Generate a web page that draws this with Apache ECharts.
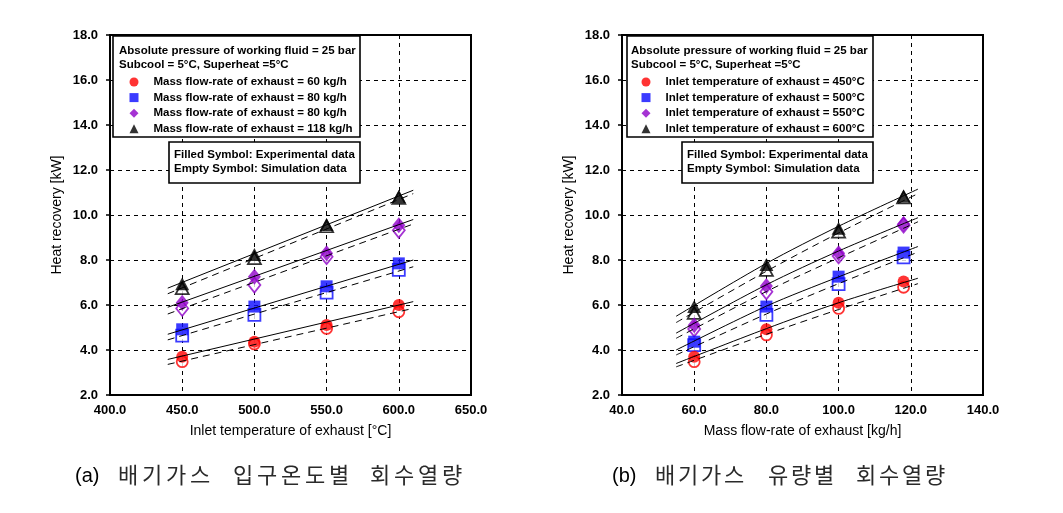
<!DOCTYPE html>
<html><head><meta charset="utf-8">
<script src="https://cdn.jsdelivr.net/npm/echarts@6/dist/echarts.min.js"></script>
<style>html,body{margin:0;padding:0;background:#fff}#c{width:1063px;height:513px}</style>
</head><body><div id="c"></div>
<script>
// ---------- data ----------
const tempX = [450, 500, 550, 600];          // chart (a) x, °C
const flowX = [60, 80, 100, 118];            // chart (b) x, kg/h
const xTicksA = [400, 450, 500, 550, 600, 650];
const xTicksB = [40, 60, 80, 100, 120, 140];
const yTicks = [2, 4, 6, 8, 10, 12, 14, 16, 18];

const namesA = ['Mass flow-rate of exhaust = 60 kg/h', 'Mass flow-rate of exhaust = 80 kg/h',
  'Mass flow-rate of exhaust = 80 kg/h\u00a0', 'Mass flow-rate of exhaust = 118 kg/h'];
const namesB = ['Inlet temperature of exhaust = 450°C', 'Inlet temperature of exhaust = 500°C',
  'Inlet temperature of exhaust = 550°C', 'Inlet temperature of exhaust = 600°C'];

// chart (a): experimental (filled) and simulation (empty)
const aExp60 = [3.70, 4.37, 5.11, 6.00];
const aExp80 = [4.92, 5.93, 6.83, 7.85];
const aExp100 = [6.10, 7.26, 8.30, 9.55];
const aExp118 = [6.95, 8.25, 9.58, 10.82];
const aSim60 = [3.48, 4.27, 4.96, 5.70];
const aSim80 = [4.64, 5.56, 6.55, 7.56];
const aSim100 = [5.85, 6.89, 8.15, 9.32];
const aSim118 = [6.75, 8.08, 9.50, 10.76];
// chart (a) lines
const aLineX = [440, 610];
const aSolid60 = [3.58, 6.15], aDash60 = [3.36, 5.85];
const aSolid80 = [4.70, 8.00], aDash80 = [4.45, 7.70];
const aSolid100 = [5.90, 9.80], aDash100 = [5.60, 9.60];
const aSolid118 = [6.75, 11.10], aDash118 = [6.50, 10.95];

// chart (b): experimental (filled) and simulation (empty)
const bExp450 = [3.70, 4.92, 6.10, 7.04];
const bExp500 = [4.37, 5.93, 7.26, 8.33];
const bExp550 = [5.10, 6.84, 8.30, 9.60];
const bExp600 = [5.93, 7.80, 9.41, 10.84];
const bSim450 = [3.48, 4.67, 5.85, 6.79];
const bSim500 = [4.22, 5.56, 6.93, 8.12];
const bSim550 = [4.93, 6.59, 8.18, 9.55];
const bSim600 = [5.65, 7.56, 9.26, 10.78];
// chart (b) lines
const bLineX = [55, 80, 100, 122];
const bSolid450 = [3.40, 4.95, 6.10, 7.19], bDash450 = [3.25, 4.70, 5.80, 6.95];
const bSolid500 = [4.00, 5.95, 7.25, 8.60], bDash500 = [3.78, 5.60, 6.95, 8.35];
const bSolid550 = [4.75, 6.90, 8.40, 9.88], bDash550 = [4.52, 6.60, 8.10, 9.70];
const bSolid600 = [5.50, 7.85, 9.50, 11.15], bDash600 = [5.22, 7.50, 9.20, 10.95];

// ---------- styles ----------
const FONT = "'Liberation Sans', Arial, sans-serif";
const LFONT = "'Liberation Sans', Arial, sans-serif";
const LSIZE = 11.5;
const colors = ['#ff0000', '#0a0aff', '#8e00c8', '#000000'];
const symbols = ['circle', 'rect', 'diamond', 'triangle'];
const fillSize = [12, 12, [13, 16], [14, 13]];
const emptySize = [11, 12, [12, 15], [13, 12]];

function pairs(xs, ys) { return xs.map((x, i) => [x, ys[i]]); }
function scatter(name, xs, ys, gi, k, filled) {
  return {
    type: 'scatter', name, xAxisIndex: gi, yAxisIndex: gi, silent: true,
    data: pairs(xs, ys), symbol: symbols[k],
    symbolSize: filled ? fillSize[k] : emptySize[k],
    itemStyle: filled ? { color: colors[k] } : { color: '#fff', borderColor: colors[k], borderWidth: 1.8 },
    z: filled ? 4 : 3
  };
}
function line(name, xs, ys, gi, dashed, smooth) {
  return {
    type: 'line', name, xAxisIndex: gi, yAxisIndex: gi, silent: true, smooth: smooth ? 0.3 : false,
    data: pairs(xs, ys), symbol: 'none',
    lineStyle: { color: '#000', width: 1, type: dashed ? [7, 5] : 'solid' }, z: 5
  };
}

const series = [];
const aExp = [aExp60, aExp80, aExp100, aExp118], aSim = [aSim60, aSim80, aSim100, aSim118];
const aSol = [aSolid60, aSolid80, aSolid100, aSolid118], aDas = [aDash60, aDash80, aDash100, aDash118];
const bExp = [bExp450, bExp500, bExp550, bExp600], bSim = [bSim450, bSim500, bSim550, bSim600];
const bSol = [bSolid450, bSolid500, bSolid550, bSolid600], bDas = [bDash450, bDash500, bDash550, bDash600];
for (let k = 0; k < 4; k++) {
  series.push(scatter(namesA[k], tempX, aExp[k], 0, k, true));
  series.push(scatter('a-sim-' + k, tempX, aSim[k], 0, k, false));
  series.push(line('a-solid-' + k, aLineX, aSol[k], 0, false, false));
  series.push(line('a-dash-' + k, aLineX, aDas[k], 0, true, false));
  series.push(scatter(namesB[k], flowX, bExp[k], 1, k, true));
  series.push(scatter('b-sim-' + k, flowX, bSim[k], 1, k, false));
  series.push(line('b-solid-' + k, bLineX, bSol[k], 1, false, true));
  series.push(line('b-dash-' + k, bLineX, bDas[k], 1, true, true));
}

function xAxis(gi, ticks, name) {
  return {
    type: 'value', gridIndex: gi, min: ticks[0], max: ticks[ticks.length - 1], interval: ticks[1] - ticks[0],
    name, nameLocation: 'middle', nameGap: 29,
    nameTextStyle: { fontFamily: FONT, fontSize: 14, color: '#000' },
    axisLine: { show: true, lineStyle: { color: '#000', width: 2 } },
    axisTick: { show: false },
    axisLabel: { fontFamily: FONT, fontSize: 13, fontWeight: 'bold', color: '#000', margin: 9, formatter: v => v.toFixed(1) },
    splitLine: { show: true, lineStyle: { color: '#000', width: 1, type: [4, 4] } }
  };
}
function yAxis(gi) {
  return {
    type: 'value', gridIndex: gi, min: yTicks[0], max: yTicks[yTicks.length - 1], interval: 2,
    name: 'Heat recovery [kW]', nameLocation: 'middle', nameGap: 46,
    nameTextStyle: { fontFamily: FONT, fontSize: 14, color: '#000' },
    axisLine: { show: true, lineStyle: { color: '#000', width: 2 } },
    axisTick: { show: true, inside: false, length: 4, lineStyle: { color: '#000', width: 1.5 } },
    axisLabel: { fontFamily: FONT, fontSize: 13, fontWeight: 'bold', color: '#000', margin: 12, formatter: v => v.toFixed(1) },
    splitLine: { show: true, lineStyle: { color: '#000', width: 1, type: [4, 4] } }
  };
}
function legend(left, names) {
  return {
    left, top: 75.5, orient: 'vertical', padding: 0, itemWidth: 9, itemHeight: 9, itemGap: 2.6,
    selectedMode: false, z: 20,
    data: names.map((n, k) => ({ name: n, icon: symbols[k] })),
    textStyle: { fontFamily: LFONT, fontSize: LSIZE, fontWeight: 'bold', color: '#000', padding: [0, 0, 0, 10], lineHeight: 13 }
  };
}

const graphics = [];
function box(x, y, w, h) {
  graphics.push({ type: 'rect', shape: { x, y, width: w, height: h }, style: { fill: '#fff', stroke: '#000', lineWidth: 1.6 }, z: 10 });
}
function txt(x, y, s, size, font, weight, color) {
  graphics.push({ type: 'text', x, y, style: { text: s, fontFamily: font, fontSize: size, fontWeight: weight, fill: color || '#000', verticalAlign: 'middle', align: 'left' }, z: 11 });
}
// legend boxes (a)
box(113, 36, 247, 101); box(169, 142, 191, 41);
txt(119, 51, 'Absolute pressure of working fluid = 25 bar', LSIZE, LFONT, 'bold');
txt(119, 65, 'Subcool = 5°C, Superheat =5°C', LSIZE, LFONT, 'bold');
txt(174, 155, 'Filled Symbol: Experimental data', LSIZE, LFONT, 'bold');
txt(174, 169, 'Empty Symbol: Simulation data', LSIZE, LFONT, 'bold');
// legend boxes (b)
box(627, 36, 246, 101); box(682, 142, 191, 41);
txt(631, 51, 'Absolute pressure of working fluid = 25 bar', LSIZE, LFONT, 'bold');
txt(631, 65, 'Subcool = 5°C, Superheat =5°C', LSIZE, LFONT, 'bold');
txt(687, 155, 'Filled Symbol: Experimental data', LSIZE, LFONT, 'bold');
txt(687, 169, 'Empty Symbol: Simulation data', LSIZE, LFONT, 'bold');

// captions
const CJK = "'Noto Sans CJK KR', 'Noto Sans', sans-serif";
function caption(labelX, label, words, starts, pitch) {
  txt(labelX, 476, label, 20, FONT, 'normal', '#000');
  words.forEach((w, wi) => {
    [...w].forEach((ch, ci) => txt(starts[wi] + ci * pitch, 475, ch, 22, CJK, 'normal', '#2a2a2a'));
  });
}
caption(75, '(a)', ['배기가스', '입구온도별', '회수열량'], [118, 233, 370], 24);
caption(612, '(b)', ['배기가스', '유량별', '회수열량'], [655, 768, 856], 23);

const chart = echarts.init(document.getElementById('c'), null, { renderer: 'canvas' });
chart.setOption({
  animation: false,
  backgroundColor: '#fff',
  grid: [
    { left: 110, top: 35, width: 361, height: 360, show: true, borderColor: '#000', borderWidth: 2, backgroundColor: 'transparent' },
    { left: 622, top: 35, width: 361, height: 360, show: true, borderColor: '#000', borderWidth: 2, backgroundColor: 'transparent' }
  ],
  xAxis: [xAxis(0, xTicksA, 'Inlet temperature of exhaust [°C]'), xAxis(1, xTicksB, 'Mass flow-rate of exhaust [kg/h]')],
  yAxis: [yAxis(0), yAxis(1)],
  legend: [legend(129.5, namesA), legend(641.5, namesB)],
  graphic: graphics,
  series
});
</script></body></html>
